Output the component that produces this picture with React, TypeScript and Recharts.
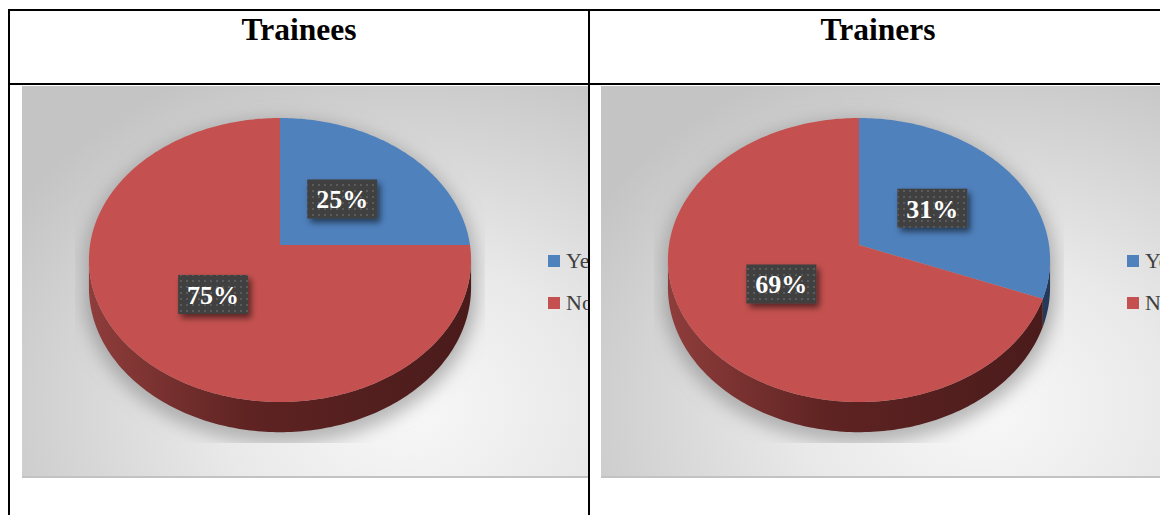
import React from "react";
import { PieChart, Pie, Cell, Legend } from "recharts";

const categories = ["Yes", "No"];
const traineeValues = [25, 75];
const trainerValues = [31, 69];
const sliceColors = ["#4f81bd", "#c4514f"];
// side wall gradient: [light, mid, dark]
const sideColors = [
  ["#4f76a9", "#34547f", "#24395a"],
  ["#8e3d3b", "#5e2322", "#4a1b1b"],
];

// fake 3D projection of the flat pie (Excel style tilted pie)
const TILT = 0.1056; // perspective strength
const SQUASH = 0.739; // vertical/horizontal radius ratio
const DEPTH = 27; // wall height
const LABEL_R = 0.48;
const THETA0 = (Math.acos(-TILT) * 180) / Math.PI; // right tangent point

const serif = '"Liberation Serif", "Times New Roman", serif';

function proj(cx: number, cy: number, R: number, r: number, theta: number) {
  const t = (theta * Math.PI) / 180;
  const u = r * Math.sin(t);
  const v = -r * Math.cos(t);
  const f = 1 / (1 - TILT * v);
  return { x: cx + R * u * f, y: cy + R * SQUASH * v * f, f };
}

// recharts angle (ccw from 3 o'clock) -> clockwise from 12 o'clock
const toCw = (a: number) => 90 - a;

function rimPoints(cx: number, cy: number, R: number, a: number, b: number, drop = 0) {
  const pts: string[] = [];
  const steps = Math.max(2, Math.ceil(Math.abs(b - a)));
  for (let i = 0; i <= steps; i++) {
    const th = a + ((b - a) * i) / steps;
    const p = proj(cx, cy, R, 1, th);
    pts.push(`${p.x.toFixed(2)},${(p.y + drop * DEPTH * p.f).toFixed(2)}`);
  }
  return pts;
}

function makeSliceRenderer(id: string) {
  return (props: any) => {
    const { cx, cy, outerRadius, startAngle, endAngle, index } = props;
    const t1 = toCw(startAngle);
    const t2 = toCw(endAngle);
    const top = rimPoints(cx, cy, outerRadius, t1, t2);
    const topPath = `M${cx},${cy} L${top.join(" L")} Z`;

    // visible part of the wall
    const a = Math.max(t1, THETA0);
    const b = Math.min(t2, 360 - THETA0);
    let wall = null;
    if (b > a) {
      const upper = rimPoints(cx, cy, outerRadius, a, b);
      const lower = rimPoints(cx, cy, outerRadius, b, a, 1);
      wall = (
        <path
          d={`M${upper.join(" L")} L${lower.join(" L")} Z`}
          fill={`url(#${id}-side${index})`}
        />
      );
    }

    let shadow = null;
    if (index === 0) {
      const back = rimPoints(cx, cy, outerRadius, THETA0 - 360, THETA0);
      const front = rimPoints(cx, cy, outerRadius, THETA0, 360 - THETA0, 1);
      shadow = (
        <g clipPath={`url(#${id}-clip)`}>
          <path
            d={`M${back.join(" L")} L${front.join(" L")} Z`}
            fill="#8c8c8c"
            fillOpacity={0.55}
            stroke="#8c8c8c"
            strokeOpacity={0.55}
            strokeWidth={10}
            transform="translate(0,6)"
            filter={`url(#${id}-blur)`}
          />
        </g>
      );
    }

    return (
      <g key={`slice-${index}`}>
        {shadow}
        {wall}
        <path d={topPath} fill={sliceColors[index]} />
      </g>
    );
  };
}

function makeLabelRenderer(id: string) {
  return (props: any) => {
    const { cx, cy, outerRadius, startAngle, endAngle, value, index } = props;
    const mid = (toCw(startAngle) + toCw(endAngle)) / 2;
    const p = proj(cx, cy, outerRadius, LABEL_R, mid);
    return (
      <g key={`lab-${index}`}>
        <g filter={`url(#${id}-drop)`}>
          <rect x={p.x - 35} y={p.y - 19.5} width={70} height={39} fill="#404040" />
        </g>
        <rect x={p.x - 35} y={p.y - 19.5} width={70} height={39} fill={`url(#${id}-dots)`} />
        <text
          x={p.x}
          y={p.y + 9.5}
          textAnchor="middle"
          fill="#ffffff"
          fontFamily={serif}
          fontWeight="bold"
          fontSize={26}
        >
          {value}%
        </text>
      </g>
    );
  };
}

function LegendBox() {
  return (
    <div style={{ fontFamily: serif, fontSize: 22, color: "#404040" }}>
      {categories.map((name, i) => (
        <div key={name} style={{ display: "flex", alignItems: "center", height: 42, lineHeight: "42px" }}>
          <span style={{ width: 12, height: 12, background: sliceColors[i], marginRight: 6, flexShrink: 0 }} />
          <span>{name}</span>
        </div>
      ))}
    </div>
  );
}

function PiePanel({ id, values, left, width }: { id: string; values: number[]; left: number; width: number }) {
  const data = categories.map((name, i) => ({ name, value: values[i] }));
  return (
    <div style={{ position: "absolute", left, top: 86, width, height: 392, overflow: "hidden" }}>
      <div
        style={{
          position: "absolute",
          left: 0,
          top: 0,
          width: 620,
          height: 392,
          background: "radial-gradient(ellipse 75% 95% at 62% 82%, #f8f8f8 0%, #e9e9e9 40%, #c4c4c4 100%)",
          boxShadow: "inset 0 -2px 0 #c2c2c2",
        }}
      />
      <PieChart width={620} height={392} margin={{ top: 0, right: 0, bottom: 0, left: 0 }} style={{ position: "absolute", left: 0, top: 0 }}>
        <defs>
          {sideColors.map((c, i) => (
            <linearGradient key={i} id={`${id}-side${i}`} gradientUnits="userSpaceOnUse" x1={68} y1={0} x2={448} y2={0}>
              <stop offset="0%" stopColor={c[0]} />
              <stop offset="42%" stopColor={c[1]} />
              <stop offset="100%" stopColor={c[2]} />
            </linearGradient>
          ))}
          <pattern id={`${id}-dots`} width={6} height={6} patternUnits="userSpaceOnUse">
            <rect x={2} y={2} width={2} height={2} fill="#5b5b5b" />
          </pattern>
          <filter id={`${id}-drop`} x="-30%" y="-30%" width="160%" height="180%">
            <feDropShadow dx={3} dy={4} stdDeviation={3} floodColor="#000" floodOpacity={0.55} />
          </filter>
          <filter id={`${id}-blur`} x="-20%" y="-20%" width="140%" height="140%">
            <feGaussianBlur stdDeviation={9} />
          </filter>
          <clipPath id={`${id}-clip`}>
            <rect x={53} y={10} width={410} height={347} />
          </clipPath>
        </defs>
        <Pie
          data={data}
          dataKey="value"
          nameKey="name"
          cx={258}
          cy={159}
          outerRadius={190}
          startAngle={90}
          endAngle={-270}
          stroke="none"
          labelLine={false}
          label={makeSliceRenderer(id)}
          isAnimationActive={false}
        >
          {data.map((d, i) => (
            <Cell key={d.name} fill={sliceColors[i]} fillOpacity={0} stroke="none" />
          ))}
        </Pie>
        <Pie
          data={data}
          dataKey="value"
          nameKey="name"
          cx={258}
          cy={159}
          outerRadius={190}
          startAngle={90}
          endAngle={-270}
          stroke="none"
          labelLine={false}
          label={makeLabelRenderer(id)}
          isAnimationActive={false}
        >
          {data.map((d, i) => (
            <Cell key={d.name} fill={sliceColors[i]} fillOpacity={0} stroke="none" />
          ))}
        </Pie>
        <Legend
          layout="vertical"
          align="right"
          verticalAlign="top"
          content={() => <LegendBox />}
          wrapperStyle={{ left: 526, top: 154, width: 90 }}
        />
      </PieChart>
    </div>
  );
}

const lineStyle = (l: number, t: number, w: number, h: number): React.CSSProperties => ({
  position: "absolute",
  left: l,
  top: t,
  width: w,
  height: h,
  background: "#000",
});

const titleStyle = (center: number): React.CSSProperties => ({
  position: "absolute",
  left: center - 150,
  top: 15,
  width: 300,
  textAlign: "center",
  fontFamily: serif,
  fontWeight: "bold",
  fontSize: 31.5,
  lineHeight: "30px",
  color: "#000",
});

export default function App() {
  return (
    <div style={{ position: "absolute", left: 0, top: 0, width: 1160, height: 515, overflow: "hidden", background: "#fff" }}>
      <PiePanel id="trainees" values={traineeValues} left={22} width={566} />
      <PiePanel id="trainers" values={trainerValues} left={601} width={559} />
      <div style={lineStyle(8, 9, 1152, 2)} />
      <div style={lineStyle(8, 9, 2, 506)} />
      <div style={lineStyle(8, 83, 1152, 2)} />
      <div style={lineStyle(588, 9, 2, 506)} />
      <div style={titleStyle(299)}>Trainees</div>
      <div style={titleStyle(878)}>Trainers</div>
    </div>
  );
}
